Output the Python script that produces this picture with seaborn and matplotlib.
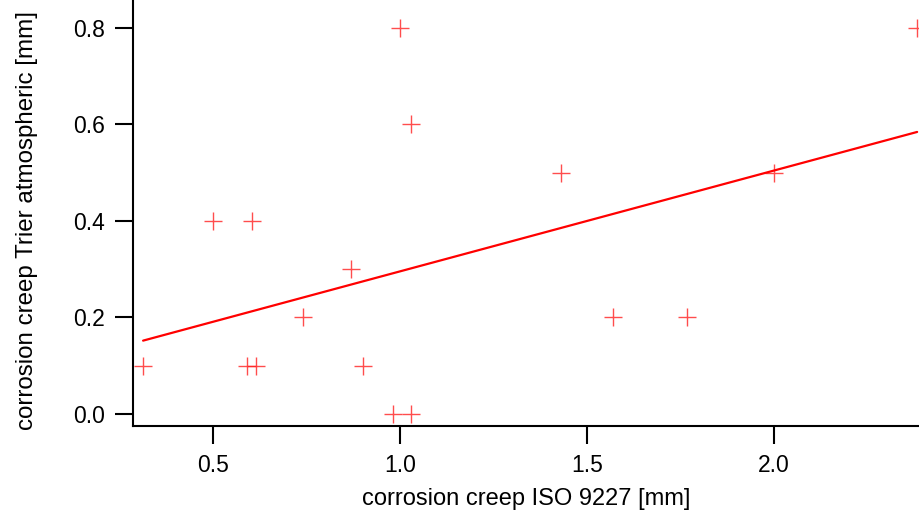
import matplotlib
matplotlib.use("Agg")
import matplotlib.pyplot as plt
import seaborn as sns
import pandas as pd

iso_9227 = [0.313, 0.50, 0.604, 0.591, 0.615, 0.741, 0.869, 0.901, 0.981, 1.029,
            1.00, 1.029, 1.43, 1.57, 1.767, 2.00, 2.383]
trier_atm = [0.1, 0.4, 0.4, 0.1, 0.1, 0.2, 0.3, 0.1, 0.0, 0.0,
             0.8, 0.6, 0.5, 0.2, 0.2, 0.5, 0.8]
x_ticks = [0.5, 1.0, 1.5, 2.0]
y_ticks = [0.0, 0.2, 0.4, 0.6, 0.8]

df = pd.DataFrame({"x": iso_9227, "y": trier_atm})

sns.set_style("ticks")
plt.rcParams["font.family"] = ["Liberation Sans", "DejaVu Sans"]

fig = plt.figure(figsize=(9.19, 5.18), dpi=100)
ax = fig.add_axes([133 / 919, 1 - 426 / 518, 1 - 133 / 919, 426 / 518])

sns.regplot(data=df, x="x", y="y", ax=ax, ci=None, truncate=True,
            marker="+",
            scatter_kws={"s": 150, "color": "#ff2020", "linewidths": 1.0},
            line_kws={"color": "#ff0000", "linewidth": 1.6})

ax.set_xlim(0.286, 2.388)
ax.set_ylim(-0.025, 0.858)
ax.set_xticks(x_ticks)
ax.set_xticklabels([f"{v:.1f}" for v in x_ticks])
ax.set_yticks(y_ticks)
ax.set_yticklabels([f"{v:.1f}" for v in y_ticks])

for s in ["top", "right"]:
    ax.spines[s].set_visible(False)
for s in ["left", "bottom"]:
    ax.spines[s].set_linewidth(1.5)
    ax.spines[s].set_color("black")

ax.tick_params(axis="both", length=13, width=1.5, color="black",
               labelsize=16.5, labelcolor="black", pad=7, direction="out")
ax.set_xlabel("corrosion creep ISO 9227 [mm]", fontsize=17, color="black", labelpad=8)
ax.set_ylabel("corrosion creep Trier atmospheric [mm]", fontsize=17.4, color="black")
ax.yaxis.set_label_coords((38 - 133) / 786, (426 - 221) / 426)

fig.savefig("out.png", dpi=100)
